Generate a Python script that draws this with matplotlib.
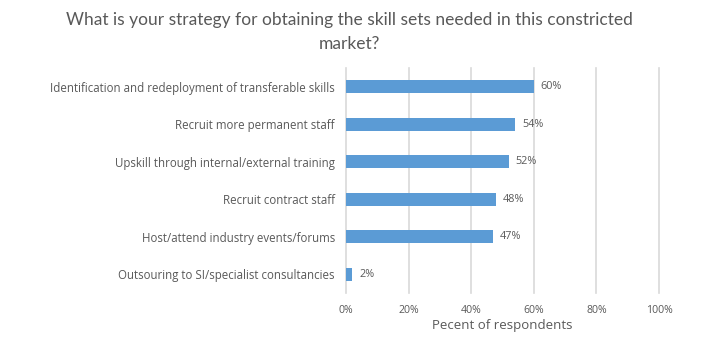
import matplotlib.pyplot as plt
from matplotlib.ticker import PercentFormatter

# ---------------------------------------------------
categories = [
    "Identification and redeployment of transferable skills",
    "Recruit more permanent staff",
    "Upskill through internal/external training",
    "Recruit contract staff",
    "Host/attend industry events/forums",
    "Outsouring to SI/specialist consultancies",
]
values = [60, 54, 52, 48, 47, 2]
xticks = [0, 20, 40, 60, 80, 100]
title = "What is your strategy for obtaining the skill sets needed in this constricted\nmarket?"
xlabel = "Pecent of respondents"
# ---------------------------------------------------

bar_color = "#5B9BD5"
text_color = "#595959"
grid_color = "#D9D9D9"

fig = plt.figure(figsize=(7.23, 3.37), dpi=100)
ax = fig.add_axes([0.4786, 0.1306, 0.4329, 0.6674])

y = list(range(len(categories)))
ax.barh(y, values, height=0.35, color=bar_color, zorder=3)
ax.set_ylim(len(categories) - 0.5, -0.5)
ax.set_xlim(0, 100)
ax.set_xticks(xticks)
ax.xaxis.set_major_formatter(PercentFormatter(decimals=0))
ax.set_yticks(y)
ax.set_yticklabels(categories, fontsize=8.3, color=text_color, family="Open Sans")
for lbl in ax.get_xticklabels():
    lbl.set_fontsize(7.6)
    lbl.set_color(text_color)
    lbl.set_family("Open Sans")

for yi, v in zip(y, values):
    ax.text(v + 2.2, yi, f"{v}%", va="center", ha="left", fontsize=7.8,
            color=text_color, family="Open Sans")

ax.grid(axis="x", color=grid_color, linewidth=1.2, zorder=0)
for gl in ax.get_xgridlines():
    gl.set_clip_on(False)
ax.tick_params(length=0, pad=8)
ax.tick_params(axis="x", pad=9)
for s in ax.spines.values():
    s.set_visible(False)

ax.set_xlabel(xlabel, fontsize=9.5, color=text_color, family="Open Sans", labelpad=2)
fig.text(0.483, 0.905, title, ha="center", va="center", fontsize=12.5,
         color=text_color, family="Lato", linespacing=1.55)

fig.savefig("out.png", dpi=100)
